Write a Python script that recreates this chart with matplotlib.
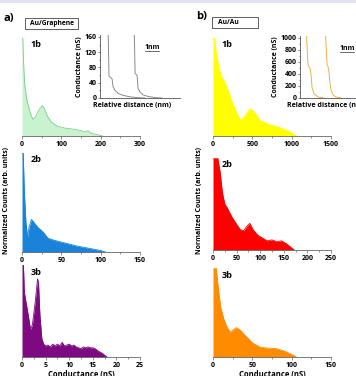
import matplotlib.pyplot as plt
from matplotlib.patches import Rectangle
from matplotlib.ticker import AutoMinorLocator, MultipleLocator

plt.rcParams['font.family'] = ['Open Sans', 'DejaVu Sans']
plt.rcParams['font.weight'] = 'bold'

# conductance histograms, Au/Graphene (left column)
g1_x = [0, 2, 4, 7, 12, 18, 24, 28, 35, 45, 52, 58, 65, 75, 90, 110, 130, 150, 160, 168, 175, 185, 195, 205]
g1_y = [1.0, 1.0, 0.75, 0.52, 0.38, 0.28, 0.20, 0.17, 0.20, 0.28, 0.31, 0.27, 0.20, 0.14, 0.10, 0.08, 0.07, 0.055, 0.04, 0.055, 0.03, 0.02, 0.01, 0.0]
g2_x = [0, 1.5, 3, 5, 7, 9, 12, 15, 20, 27, 33, 40, 50, 60, 70, 80, 90, 100, 106]
g2_y = [1.0, 1.0, 0.6, 0.3, 0.15, 0.25, 0.33, 0.30, 0.25, 0.20, 0.14, 0.12, 0.10, 0.08, 0.06, 0.045, 0.03, 0.015, 0.0]
g3_x = [0, 0.3, 0.5, 1.0, 1.5, 1.8, 2.2, 2.8, 3.3, 3.5, 3.8, 4.2, 4.6, 5.0, 5.5, 6.0, 6.5, 7.0, 7.5, 8.0, 8.5, 9.0,
        9.5, 10.0, 10.5, 11.0, 11.5, 12.0, 12.5, 13.0, 13.5, 14.0, 14.5, 15.0, 15.5, 16.0, 17.0, 18.0]
g3_y = [1.0, 1.0, 0.70, 0.55, 0.40, 0.30, 0.35, 0.60, 0.85, 0.80, 0.45, 0.20, 0.14, 0.12, 0.13, 0.11, 0.14, 0.12, 0.14,
        0.12, 0.16, 0.12, 0.13, 0.14, 0.12, 0.13, 0.11, 0.10, 0.09, 0.11, 0.10, 0.11, 0.10, 0.10, 0.09, 0.07, 0.04, 0.0]

# conductance histograms, Au/Au (right column)
a1_x = [0, 20, 40, 70, 100, 150, 200, 250, 300, 350, 400, 470, 520, 600, 700, 800, 900, 1000, 1060]
a1_y = [1.0, 1.0, 0.85, 0.72, 0.62, 0.55, 0.45, 0.33, 0.24, 0.16, 0.20, 0.28, 0.25, 0.16, 0.12, 0.10, 0.07, 0.035, 0.0]
a2_x = [0, 10, 15, 20, 25, 30, 40, 50, 58, 65, 72, 78, 85, 95, 105, 115, 125, 135, 145, 155, 165, 172]
a2_y = [1.0, 1.0, 0.85, 0.62, 0.50, 0.46, 0.36, 0.28, 0.22, 0.21, 0.26, 0.29, 0.22, 0.16, 0.13, 0.10, 0.11, 0.09, 0.10, 0.07, 0.03, 0.0]
a3_x = [0, 4, 7, 10, 14, 18, 22, 26, 30, 35, 40, 50, 60, 70, 80, 90, 100, 106]
a3_y = [1.0, 1.0, 0.75, 0.55, 0.42, 0.33, 0.28, 0.31, 0.33, 0.30, 0.25, 0.16, 0.11, 0.10, 0.095, 0.07, 0.03, 0.0]

# inset traces: relative distance (nm) vs conductance (nS)
gt1_x = [0.57, 0.64, 0.71, 0.86, 0.93, 1.07, 1.29, 1.64, 2.14, 2.64, 3.2]
gt1_y = [200, 57, 55, 50, 30, 20, 12, 7, 3, 1, 0]
gt2_x = [2.43, 2.50, 2.57, 2.64, 2.71, 2.86, 3.07, 3.43, 3.93, 4.43]
gt2_y = [200, 65, 62, 60, 25, 15, 8, 4, 1, 0]
at1_x = [0.43, 0.57, 0.64, 0.71, 0.79, 0.86, 1.0, 1.29, 1.71]
at1_y = [1200, 550, 520, 500, 380, 170, 70, 15, 0]
at2_x = [1.79, 1.93, 2.0, 2.07, 2.11, 2.21, 2.36, 2.57, 2.93]
at2_y = [1200, 550, 520, 430, 300, 130, 50, 15, 0]

W, H = 356, 376
fig = plt.figure(figsize=(W / 100, H / 100), dpi=100)


def frac(x0, y_top, x1, y_bot):
    return [x0 / W, 1 - y_bot / H, (x1 - x0) / W, (y_bot - y_top) / H]


def hist_panel(rect, x, y, xmax, step, face, edge, tag, tag_y):
    ax = fig.add_axes(rect)
    ax.fill_between(x, y, color=face, lw=0)
    ax.plot(x, y, color=edge, lw=0.6)
    ax.set_xlim(0, xmax)
    ax.set_ylim(0, 1)
    ax.patch.set_visible(False)
    for s in ['left', 'top', 'right']:
        ax.spines[s].set_visible(False)
    ax.spines['bottom'].set_color('#666666')
    ax.spines['bottom'].set_linewidth(0.6)
    ax.set_yticks([])
    ax.xaxis.set_major_locator(MultipleLocator(step))
    ax.xaxis.set_minor_locator(AutoMinorLocator(2))
    ax.tick_params(axis='x', which='both', labelsize=5, length=2, width=0.5, pad=1.5, color='#666666')
    ax.tick_params(axis='x', which='minor', length=1.2)
    ax.text(0.07, tag_y, tag, transform=ax.transAxes, fontsize=6.5, fontweight='bold', va='center')
    return ax


hist_panel(frac(22, 38, 140, 136), g1_x, g1_y, 300, 100, '#c9f2cf', '#7dcf8a', '1b', 0.93)
hist_panel(frac(22, 153, 140, 252), g2_x, g2_y, 150, 50, '#1a82d8', '#1a82d8', '2b', 0.93)
ax = hist_panel(frac(22, 265, 140, 357), g3_x, g3_y, 25, 5, '#7d0a80', '#7d0a80', '3b', 0.92)
ax.set_xlabel('Conductance (nS)', fontsize=5.5, fontweight='bold', labelpad=1)

hist_panel(frac(213, 38, 331, 136), a1_x, a1_y, 1500, 500, '#ffff00', '#ffff00', '1b', 0.93)
hist_panel(frac(213, 158, 331, 250), a2_x, a2_y, 250, 50, '#ff0000', '#ff0000', '2b', 0.93)
ax = hist_panel(frac(213, 268, 331, 357), a3_x, a3_y, 150, 50, '#ff8c00', '#ff8c00', '3b', 0.92)
ax.set_xlabel('Conductance (nS)', fontsize=5.5, fontweight='bold', labelpad=1)


def inset(rect, traces, color, ymax, ystep, label_x):
    ax = fig.add_axes(rect)
    for tx, ty in traces:
        ax.plot(tx, ty, color=color, lw=0.7)
    ax.set_xlim(0, 5.7)
    ax.set_ylim(0, ymax)
    ax.patch.set_visible(False)
    for s in ['top', 'right']:
        ax.spines[s].set_visible(False)
    for s in ['left', 'bottom']:
        ax.spines[s].set_color('#555555')
        ax.spines[s].set_linewidth(0.6)
    ax.set_xticks([])
    ax.yaxis.set_major_locator(MultipleLocator(ystep))
    ax.yaxis.set_minor_locator(AutoMinorLocator(2))
    ax.tick_params(axis='y', which='both', labelsize=5, length=1.5, width=0.5, pad=1, color='#555555')
    ax.tick_params(axis='y', which='minor', length=1)
    ax.set_ylabel('Conductance (nS)', fontsize=5, fontweight='bold', labelpad=1)
    ax.set_xlabel('Relative distance (nm)', fontsize=5, fontweight='bold', labelpad=1.5)
    ax.xaxis.set_label_coords(label_x, -0.06)
    return ax


ins = inset(frac(100, 35, 180, 98), [(gt1_x, gt1_y), (gt2_x, gt2_y)], '#8a8a8a', 165, 40, 0.4)
ins.text(3.2, 0.8 * 165, '1nm', fontsize=5, fontweight='bold', ha='left', va='center')
ins.plot([3.2, 4.2], [0.75 * 165, 0.75 * 165], color='#333333', lw=0.5)

ins = inset(frac(300, 36, 380, 98), [(at1_x, at1_y), (at2_x, at2_y)], '#eab04a', 1030, 200, 0.33)
ins.text(2.85, 0.8 * 1030, '1nm', fontsize=5, fontweight='bold', ha='left', va='center')
ins.plot([2.85, 3.85], [0.75 * 1030, 0.75 * 1030], color='#333333', lw=0.5)

# panel letters and boxed titles
fig.text(4 / W, 1 - 19 / H, 'a)', fontsize=8, fontweight='bold', va='center')
fig.text(196 / W, 1 - 17 / H, 'b)', fontsize=8, fontweight='bold', va='center')
fig.add_artist(Rectangle((25 / W, 1 - 29 / H), 53 / W, 11 / H, transform=fig.transFigure,
                         fill=False, ec='#444444', lw=0.6))
fig.text(51.5 / W, 1 - 23.5 / H, 'Au/Graphene', fontsize=4.8, fontweight='bold', ha='center', va='center')
fig.add_artist(Rectangle((212 / W, 1 - 28 / H), 46 / W, 11 / H, transform=fig.transFigure,
                         fill=False, ec='#444444', lw=0.6))
fig.text(218 / W, 1 - 22.5 / H, 'Au/Au', fontsize=4.8, fontweight='bold', ha='left', va='center')

fig.text(7 / W, 1 - 200 / H, 'Normalized Counts (arb. units)', fontsize=5, fontweight='bold',
         rotation=90, ha='center', va='center')
fig.text(199 / W, 1 - 200 / H, 'Normalized Counts (arb. units)', fontsize=5, fontweight='bold',
         rotation=90, ha='center', va='center')

# light band along the top edge
fig.add_artist(Rectangle((0, 1 - 3 / H), 1, 3 / H, transform=fig.transFigure, color='#dfe5f0', lw=0))

fig.savefig('out.png', dpi=100)
